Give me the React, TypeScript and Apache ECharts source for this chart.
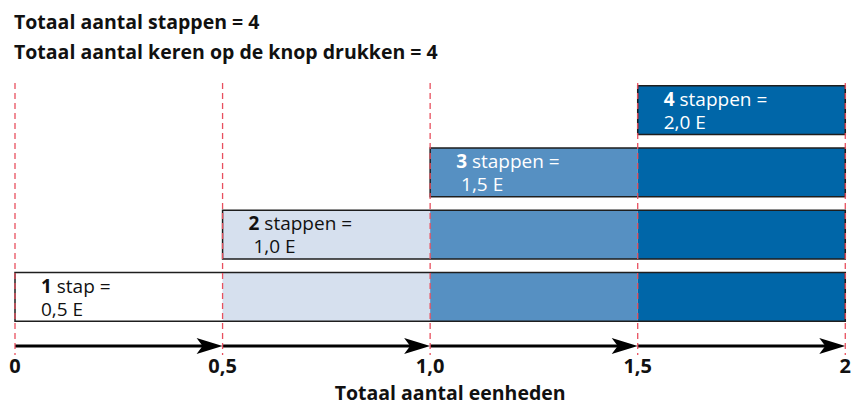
import React, { useEffect, useRef } from "react";
import * as echarts from "echarts";

const titleLines = ["Totaal aantal stappen = 4", "Totaal aantal keren op de knop drukken = 4"];
const rowCategories = ["1", "2", "3", "4"];
const rowSteps = [1, 2, 3, 4];
const rowWords = ["stap =", "stappen =", "stappen =", "stappen ="];
const rowStart = [0, 0.5, 1.0, 1.5];
const rowEnd = [2, 2, 2, 2];
const rowTotals = ["0,5 E", " 1,0 E", " 1,5 E", "2,0 E"];
const segmentBounds = [0, 0.5, 1.0, 1.5, 2.0];
const segmentColors = ["#ffffff", "#d6e0ee", "#5690c2", "#0066a8"];
const labelColors = ["#111111", "#111111", "#ffffff", "#ffffff"];
const tickValues = [0, 0.5, 1.0, 1.5, 2.0];
const tickLabels: Record<string, string> = { "0": "0", "0.5": "0,5", "1": "1,0", "1.5": "1,5", "2": "2" };
const arrowSegments = [
  [0, 0.5],
  [0.5, 1.0],
  [1.0, 1.5],
  [1.5, 2.0],
];
const axisName = "Totaal aantal eenheden";

const FONT = "'Open Sans', 'Noto Sans', sans-serif";

export default function App() {
  const ref = useRef<HTMLDivElement>(null);
  useEffect(() => {
    document.body.style.margin = "0";
    if (!ref.current) return;
    const chart = echarts.init(ref.current, undefined, { renderer: "svg" });
    const rowData = rowSteps.map((s, i) => [i, rowStart[i], rowEnd[i]]);

    chart.setOption({
      animation: false,
      title: {
        text: titleLines.join("\n"),
        left: 14,
        top: 6,
        padding: 0,
        textStyle: {
          fontFamily: FONT,
          fontWeight: "bold",
          fontSize: 19.5,
          lineHeight: 30,
          color: "#111111",
        },
      },
      grid: { left: 15, right: 8, top: 79, bottom: 78, containLabel: false },
      xAxis: {
        type: "value",
        min: 0,
        max: 2,
        interval: 0.5,
        axisLine: { show: false },
        axisTick: { show: false },
        splitLine: { show: false },
        axisLabel: {
          margin: 27,
          fontFamily: FONT,
          fontWeight: "bold",
          fontSize: 20,
          color: "#111111",
          formatter: (v: number) => tickLabels[String(v)] ?? String(v),
        },
        name: axisName,
        nameLocation: "middle",
        nameGap: 54,
        nameTextStyle: {
          fontFamily: FONT,
          fontWeight: "bold",
          fontSize: 19.5,
          color: "#111111",
          padding: [0, 0, 0, 40],
        },
      },
      yAxis: {
        type: "category",
        data: rowCategories,
        show: false,
      },
      series: [
        {
          type: "custom",
          name: "rows",
          data: rowData,
          encode: { x: [1, 2], y: 0 },
          clip: false,
          z: 2,
          renderItem: (params: any, api: any) => {
            const idx = api.value(0);
            const start = api.value(1);
            const end = api.value(2);
            const center = api.coord([start, idx]);
            const h = api.size([0, 1])[1] * 0.78;
            const top = center[1] - h / 2;
            const children: any[] = [];
            for (let k = 0; k < segmentBounds.length - 1; k++) {
              const a = Math.max(segmentBounds[k], start);
              const b = Math.min(segmentBounds[k + 1], end);
              if (b <= a) continue;
              const xa = api.coord([a, idx])[0];
              const xb = api.coord([b, idx])[0];
              children.push({
                type: "rect",
                shape: { x: xa, y: top, width: xb - xa, height: h },
                style: { fill: segmentColors[k] },
              });
            }
            const xs = api.coord([start, idx])[0];
            const xe = api.coord([end, idx])[0];
            children.push({
              type: "rect",
              shape: { x: xs, y: top, width: xe - xs, height: h },
              style: { fill: "none", stroke: "#1e1e1e", lineWidth: 1.5 },
            });
            children.push({
              type: "text",
              x: xs + 26,
              y: top + 1.5,
              style: {
                text: `{b|${rowSteps[idx]}} ${rowWords[idx]}\n${rowTotals[idx]}`,
                fill: labelColors[idx],
                font: `19px ${FONT}`,
                lineHeight: 23,
                rich: {
                  b: {
                    fontWeight: "bold",
                    fontSize: 19,
                    fontFamily: FONT,
                    fill: labelColors[idx],
                    lineHeight: 23,
                  },
                },
              },
            });
            return { type: "group", children };
          },
        },
        {
          type: "custom",
          name: "gridlines",
          data: tickValues.map((v) => [v]),
          encode: { x: 0 },
          clip: false,
          z: 5,
          renderItem: (params: any, api: any) => {
            const x = api.coord([api.value(0), 0])[0];
            const cs = params.coordSys;
            return {
              type: "line",
              shape: { x1: x, y1: cs.y + 4, x2: x, y2: cs.y + cs.height + 27 },
              style: { stroke: "#e8505f", lineWidth: 1.3, lineDash: [6, 4] },
            };
          },
        },
        {
          type: "custom",
          name: "arrows",
          data: arrowSegments,
          encode: { x: [0, 1] },
          clip: false,
          z: 4,
          renderItem: (params: any, api: any) => {
            const x0 = api.coord([api.value(0), 0])[0];
            const x1 = api.coord([api.value(1), 0])[0];
            const cs = params.coordSys;
            const y = cs.y + cs.height + 18;
            return {
              type: "group",
              children: [
                {
                  type: "line",
                  shape: { x1: x0, y1: y, x2: x1 - 10, y2: y },
                  style: { stroke: "#000000", lineWidth: 3 },
                },
                {
                  type: "polygon",
                  shape: {
                    points: [
                      [x1, y],
                      [x1 - 26, y - 8],
                      [x1 - 20, y],
                      [x1 - 26, y + 8],
                    ],
                  },
                  style: { fill: "#000000" },
                },
              ],
            };
          },
        },
      ],
    });
    return () => chart.dispose();
  }, []);
  return <div ref={ref} style={{ width: 854, height: 407 }} />;
}
